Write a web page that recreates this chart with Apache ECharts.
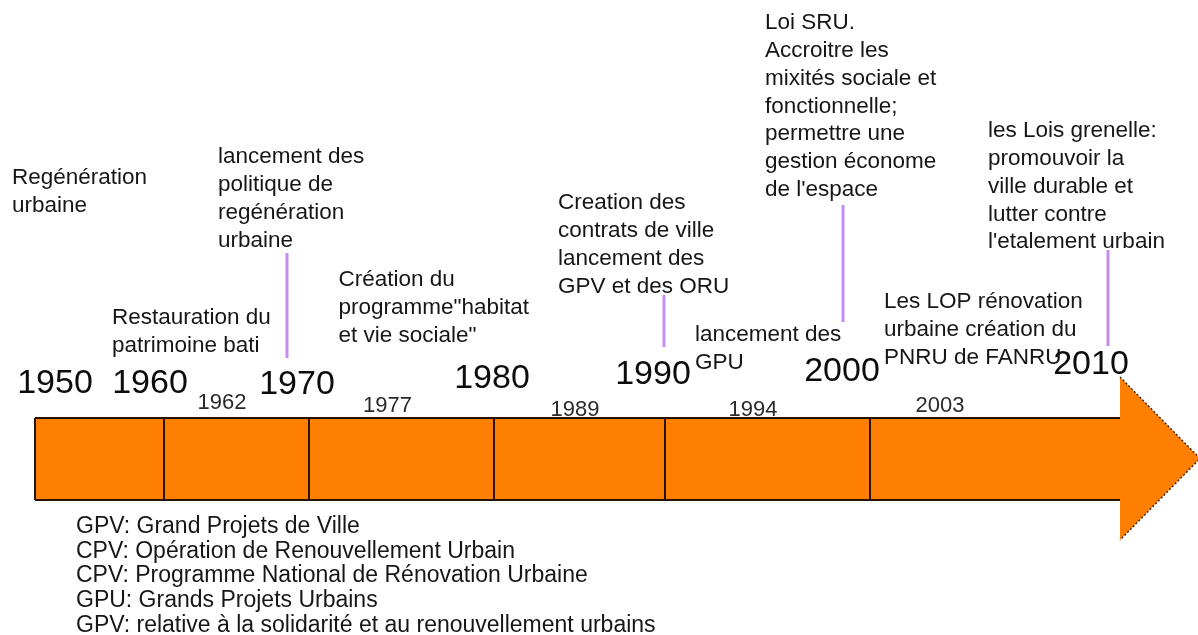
<!DOCTYPE html>
<html lang="fr">
<head>
    <meta charset="utf-8">
    <title>Frise chronologique - renouvellement urbain</title>
    <script src="https://cdn.jsdelivr.net/npm/echarts@6/dist/echarts.min.js"></script>
    <style>
        html, body {
            margin: 0;
            padding: 0;
            background: #fff;
        }

        #container {
            width: 1198px;
            height: 635px;
        }
    </style>
</head>
<body>
<div id="container"></div>
<script>
    // --- data ---
    var decades = [1950, 1960, 1970, 1980, 1990, 2000, 2010];
    var eventYears = [1962, 1977, 1989, 1994, 2003];
    var annotationYears = [1950, 1970, 1960, 1977, 1989, 1994, 2000, 2010, 2003];
    var annotationTexts = [
        'Regénération\nurbaine',
        'lancement des\npolitique de\nregénération\nurbaine',
        'Restauration du\npatrimoine bati',
        'Création du\nprogramme"habitat\net vie sociale"',
        'Creation des\ncontrats de ville\nlancement des\nGPV et des ORU',
        'lancement des\nGPU',
        'Loi SRU.\nAccroitre les\nmixités sociale et\nfonctionnelle;\npermettre une\ngestion économe\nde l\'espace',
        'les Lois grenelle:\npromouvoir la\nville durable et\nlutter contre\nl\'etalement urbain',
        'Les LOP rénovation\nurbaine création du\nPNRU de FANRU'
    ];
    var connectorYears = [1970, 1990, 2000, 2010];
    var glossary = [
        'GPV: Grand Projets de Ville',
        'CPV: Opération de Renouvellement Urbain',
        'CPV: Programme National de Rénovation Urbaine',
        'GPU: Grands Projets Urbains',
        'GPV: relative à la solidarité et au renouvellement urbains'
    ];

    // --- layout (drawing only) ---
    var FONT = '"Liberation Sans", Arial, sans-serif';
    var ORANGE = '#ff8000';
    var EDGE = '#2b1200';
    var VIOLET = '#c58cf0';
    var decadeSpan = [129, 145, 185, 171, 205, 250];   // drawn width of each decade
    var BAR_TOP = 418, BAR_BOTTOM = 500;
    var HEAD_TOP = 377, HEAD_BOTTOM = 540, HEAD_LEN = 80;
    var decadeLabelPos = [[20, 384], [-14, 384], [-12, 385], [-2, 379], [-12, 375], [-28, 372], [-29, 365]];
    var eventLabelPos = [[29, 403], [-51, 406], [-73, 410], [6, 410], [-5, 406]];
    var annotationPos = [[-23, 164], [-91, 143], [-52, 304], [-100, 266], [-90, 189],
        [-52, 321], [-105, 9], [-132, 117], [-61, 288]];
    var connectorPos = [[-22, 253, 358], [-1, 295, 347], [-27, 205, 322], [-12, 250, 346]];

    // year -> position along the (non linear) frise
    function tx(year) {
        var x = 0;
        for (var i = 0; i < decadeSpan.length; i++) {
            if (year <= decades[i + 1] || i == decadeSpan.length - 1) {
                return x + (year - decades[i]) / 10 * decadeSpan[i];
            }
            x += decadeSpan[i];
        }
        return x;
    }

    var segments = [];
    for (var i = 0; i < decades.length - 1; i++) {
        segments.push([tx(decades[i]), tx(decades[i + 1])]);
    }

    function renderSegment(params, api) {
        var tl = api.coord([api.value(0), BAR_TOP]);
        var br = api.coord([api.value(1), BAR_BOTTOM]);
        var line = {stroke: EDGE, lineWidth: 2};
        return {
            type: 'group',
            children: [
                {type: 'rect', shape: {x: tl[0], y: tl[1], width: br[0] - tl[0], height: br[1] - tl[1]},
                    style: {fill: ORANGE}},
                {type: 'line', shape: {x1: tl[0], y1: tl[1], x2: br[0], y2: tl[1]}, style: line},
                {type: 'line', shape: {x1: tl[0], y1: br[1], x2: br[0], y2: br[1]}, style: line},
                {type: 'line', shape: {x1: tl[0], y1: tl[1], x2: tl[0], y2: br[1]}, style: line}
            ]
        };
    }

    function renderHead(params, api) {
        var x = api.value(0);
        var top = api.coord([x, HEAD_TOP]);
        var tip = api.coord([x + HEAD_LEN, (HEAD_TOP + HEAD_BOTTOM) / 2]);
        var bottom = api.coord([x, HEAD_BOTTOM]);
        return {
            type: 'group',
            children: [
                {type: 'polygon', shape: {points: [top, tip, bottom]}, style: {fill: ORANGE}},
                {type: 'polyline', shape: {points: [top, tip, bottom]},
                    style: {stroke: '#3a2a1a', lineWidth: 1.5, lineDash: [2, 2], fill: null}}
            ]
        };
    }

    function renderConnector(params, api) {
        var p = connectorPos[params.dataIndex];
        var a = api.coord([api.value(0) + p[0], p[1]]);
        var b = api.coord([api.value(0) + p[0], p[2]]);
        return {type: 'line', shape: {x1: a[0], y1: a[1], x2: b[0], y2: b[1]},
            style: {stroke: VIOLET, lineWidth: 3}};
    }

    function textSeries(points, texts, style) {
        return {
            type: 'scatter',
            symbolSize: 0,
            silent: true,
            itemStyle: {opacity: 1},
            data: points.map(function (p, k) {
                return {value: p, name: texts[k]};
            }),
            label: Object.assign({
                show: true,
                formatter: '{b}',
                fontFamily: FONT,
                color: '#161616'
            }, style)
        };
    }

    var myChart = echarts.init(document.getElementById('container'));
    var option = {
        backgroundColor: '#fff',
        animation: false,
        grid: {left: 0, right: 0, top: 0, bottom: 0},
        xAxis: {type: 'value', min: -35, max: 1163, show: false},
        yAxis: {type: 'value', min: 0, max: 635, inverse: true, show: false},
        series: [
            {
                type: 'custom',
                data: segments,
                renderItem: renderSegment,
                silent: true
            },
            {
                type: 'custom',
                data: [[tx(decades[decades.length - 1])]],
                renderItem: renderHead,
                silent: true
            },
            {
                type: 'custom',
                data: connectorYears.map(function (y) { return [tx(y)]; }),
                renderItem: renderConnector,
                silent: true
            },
            // big decade labels
            textSeries(decades.map(function (d, k) {
                return [tx(d) + decadeLabelPos[k][0], decadeLabelPos[k][1]];
            }), decades.map(String), {
                position: [0, 0], align: 'center', verticalAlign: 'middle',
                fontSize: 34, color: '#0c0c0c'
            }),
            // small event years
            textSeries(eventYears.map(function (d, k) {
                return [tx(d) + eventLabelPos[k][0], eventLabelPos[k][1]];
            }), eventYears.map(String), {
                position: [0, 0], align: 'center', verticalAlign: 'middle',
                fontSize: 22, color: '#2a2a2a'
            }),
            // annotations
            textSeries(annotationYears.map(function (d, k) {
                return [tx(d) + annotationPos[k][0], annotationPos[k][1]];
            }), annotationTexts, {
                position: [0, 0], align: 'left', verticalAlign: 'top',
                fontSize: 22.5, lineHeight: 27.8
            }),
            // glossary under the frise
            textSeries([[tx(decades[0]) + 41, 514]], [glossary.join('\n')], {
                position: [0, 0], align: 'left', verticalAlign: 'top',
                fontSize: 23, lineHeight: 24.8
            })
        ]
    };
    myChart.setOption(option);
</script>
</body>
</html>
